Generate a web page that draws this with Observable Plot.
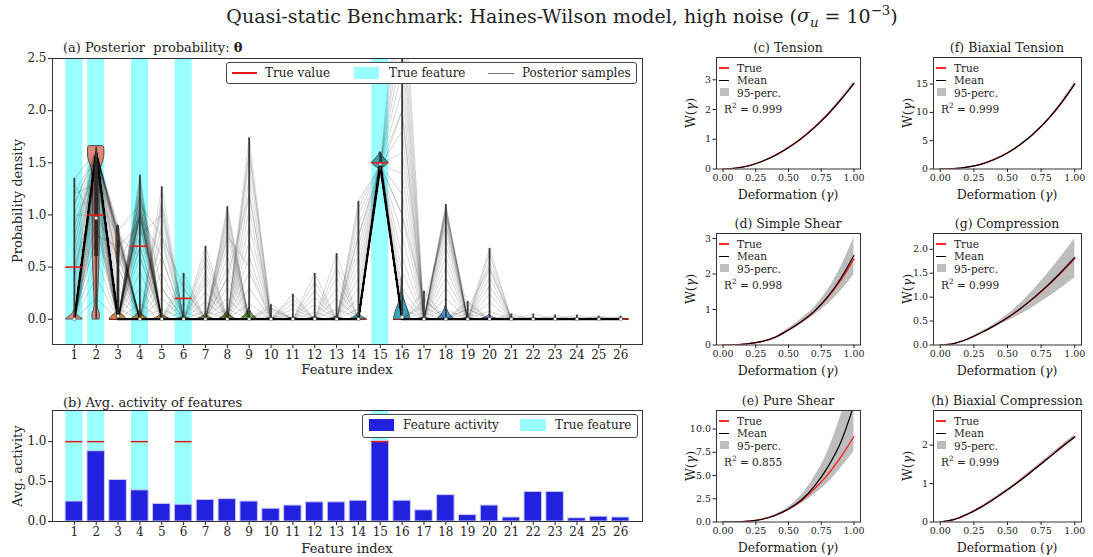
<!DOCTYPE html>
<html><head><meta charset="utf-8">
<script src="https://cdn.jsdelivr.net/npm/d3@7"></script>
<script src="https://cdn.jsdelivr.net/npm/@observablehq/plot@0.6"></script>
<style>
body{margin:0;background:#fff;}
#root{position:relative;width:1093px;height:557px;overflow:hidden;font-family:"DejaVu Serif",serif;color:#222;background:#fff;}
.abs{position:absolute;white-space:nowrap;line-height:1;}
.plot{position:absolute;}
</style></head><body><div id="root"></div>
<script>
// ---------------- DATA ----------------
const features = [1,2,3,4,5,6,7,8,9,10,11,12,13,14,15,16,17,18,19,20,21,22,23,24,25,26];
const trueFeatures = [1,2,4,6,15];
const trueValues = [0.5,1.0,0,0.7,0,0.2,0,0,0,0,0,0,0,0,1.5,0,0,0,0,0,0,0,0,0,0,0];
// dominant posterior sample (mode)
const modePath = [0,1.6,0,0,0,0,0,0,0,0,0,0,0,0,1.48,0,0,0,0,0,0,0,0,0,0,0];
// posterior samples differing from the mode at one feature
const fanHeights = [
  [0.1,0.2,0.3,0.4,0.5,0.6,0.7,0.8,0.9,1.0,1.1,1.2,1.35],
  [0.2,0.4,0.6,0.8,0.95,1.1,1.25,1.35,1.45,1.5,1.52,1.55,1.57,1.58,1.62,1.63,1.65],
  [0.1,0.2,0.3,0.4,0.5,0.6,0.65,0.7,0.72,0.75,0.76,0.78,0.8,0.8,0.82,0.84,0.86,0.9],
  [0.15,0.3,0.45,0.6,0.7,0.8,0.88,0.94,0.98,1.0,1.02,1.05,1.08,1.1,1.15,1.2,1.25,1.3,1.38],
  [0.1,0.2,0.3,0.45,0.6,0.75,0.9,1.05,1.15,1.27],
  [0.07,0.15,0.22,0.3,0.37,0.44],
  [0.08,0.17,0.26,0.35,0.45,0.55,0.62,0.7],
  [0.1,0.2,0.3,0.4,0.5,0.6,0.7,0.78,0.85,0.9,0.95,1.0,1.04,1.08],
  [0.15,0.3,0.45,0.6,0.75,0.9,1.05,1.2,1.35,1.5,1.62,1.74],
  [0.04,0.08,0.11,0.14],
  [0.05,0.1,0.15,0.2,0.24],
  [0.07,0.14,0.21,0.28,0.36,0.44],
  [0.1,0.2,0.3,0.4,0.5,0.63],
  [0.1,0.2,0.3,0.4,0.5,0.6,0.7,0.8,0.9,1.0,1.07,1.13],
  [1.4,1.42,1.44,1.45,1.46,1.47,1.49,1.5,1.51,1.52,1.54,1.55,1.58,1.6],
  [0.1,0.2,0.3,0.45,0.6,0.8,1.0,1.2,1.4,1.6,1.8,2.0,2.2,2.4,2.6,2.8,3.0,3.3,3.6],
  [0.06,0.12,0.18,0.27],
  [0.1,0.2,0.3,0.4,0.5,0.6,0.7,0.78,0.85,0.92,0.97,1.0,1.03,1.05,1.07,1.08,1.1],
  [0.05,0.1,0.14,0.17],
  [0.08,0.16,0.24,0.32,0.4,0.48,0.56,0.63,0.68],
  [0.03,0.05],[0.02,0.05],[0.02,0.04],[0.02,0.04],[0.02,0.03],[0.01,0.03]
];
// posterior samples differing from the mode at two features: [featureA, valueA, featureB, valueB]
const pairSamples = [
  [1,1.2,2,1.3],[1,0.9,2,1.45],[1,0.6,2,1.5],[1,1.0,2,1.0],[1,0.5,2,1.2],[1,1.3,2,0.9],
  [2,1.2,3,0.8],[2,1.0,3,0.6],[2,1.4,3,0.85],[2,0.8,3,0.7],[2,1.5,3,0.5],
  [2,1.3,4,1.1],[2,1.1,4,1.2],[2,1.5,4,0.9],[2,1.4,4,1.3],[2,0.9,4,1.0],[2,1.2,4,1.0],[2,1.0,4,1.35],[2,1.45,4,1.05],
  [3,0.8,4,0.6],[3,0.5,4,1.0],[3,0.7,4,0.9],[3,0.85,4,1.1],
  [4,1.0,5,0.6],[4,0.8,5,1.0],[4,1.2,5,0.3],[4,1.1,5,0.8],
  [1,0.8,4,1.0],[1,1.1,4,0.7],[1,0.4,3,0.8],[1,0.7,4,1.2],
  [5,0.8,6,0.3],[5,1.1,7,0.4],[8,0.8,9,0.5],[9,1.2,8,0.4],[9,1.6,10,0.1],
  [14,0.8,15,1.45],[16,2.0,15,1.4],[16,1.0,17,0.2],[18,0.9,17,0.15],[18,1.0,19,0.1],[20,0.5,19,0.1]
];
const whiskerLo = [0,0,0,0,0,0,0,0,0,0,0,0,0,0,1.42,0,0,0,0,0,0,0,0,0,0,0];
const whiskerHi = [1.35,1.65,0.9,1.38,1.27,0.44,0.7,1.08,1.74,0.14,0.24,0.44,0.63,1.13,1.6,3.6,0.27,1.1,0.17,0.68,0.05,0.05,0.04,0.04,0.03,0.03];
const boxFeatures = [2,3];
const boxLo = [0.6,0.0];
const boxHi = [1.5,0.75];
const boxWidths = [4,2.5];
const medians = [0,0.97,0.03,0,0,0,0,0,0,0,0,0,0,0,1.49,0.02,0,0,0,0,0,0,0,0,0,0];
const violinColors = ["#e58b80","#e08878","#d98a4e","#cc8f3a","#b8923a","#a99a36","#94a035","#6f8e2a","#5ea83a","#4caa52","#40aa6a","#3aa97c","#37a88c","#35a69a","#36a5a8","#3aa3b8","#40a0c8","#4a9bd6","#6a96e0","#8c8fe6","#a88ae6","#c083e0","#d27ed0","#dd7dbe","#e280aa","#e48596"];
// heights of the violin blobs at zero (null = custom profile)
const blobHeights = [0.085,null,null,0.09,0.06,0.03,0.05,0.08,0.11,0.02,0.02,0.025,0.03,0.06,null,null,0.02,0.13,0.02,0.045,0.012,0.012,0.012,0.012,0.012,0.012];
const blobTemplateY = [0,0.12,0.3,0.55,0.8,1.0];
const blobTemplateW = [0.38,0.33,0.21,0.11,0.04,0.01];
const violin2 = [[0,0.16],[0.04,0.18],[0.09,0.1],[0.15,0.07],[0.25,0.09],[0.45,0.13],[0.7,0.16],[1.0,0.16],[1.2,0.15],[1.35,0.17],[1.45,0.22],[1.52,0.33],[1.58,0.38],[1.65,0.37],[1.66,0.3]];
const violin3 = [[0,0.38],[0.02,0.32],[0.045,0.18],[0.07,0.06],[0.1,0.02],[0.5,0.015],[0.55,0.04],[0.62,0.07],[0.72,0.08],[0.82,0.07],[0.88,0.04],[0.9,0.02]];
const violin15 = [[1.44,0.03],[1.47,0.25],[1.5,0.38],[1.52,0.3],[1.55,0.15],[1.6,0.02]];
const violin16 = [[0,0.38],[0.04,0.34],[0.1,0.25],[0.16,0.14],[0.22,0.07],[0.3,0.03],[0.4,0.015]];
const activity = [0.25,0.88,0.52,0.39,0.22,0.21,0.27,0.28,0.25,0.16,0.20,0.24,0.24,0.26,1.0,0.26,0.14,0.33,0.08,0.20,0.05,0.37,0.37,0.04,0.06,0.05];

// small panels
const gammas = [0,0.1,0.2,0.3,0.4,0.5,0.6,0.7,0.8,0.9,1.0];
const tensionTrue = [0,0.03,0.11,0.26,0.46,0.72,1.03,1.41,1.84,2.33,2.87];
const tensionMean = [0,0.03,0.11,0.26,0.46,0.72,1.03,1.40,1.83,2.33,2.88];
const tensionLo   = [0,0.03,0.11,0.25,0.45,0.71,1.01,1.38,1.80,2.28,2.82];
const tensionHi   = [0,0.03,0.12,0.27,0.47,0.73,1.05,1.43,1.87,2.38,2.94];
const shearTrue = [0,0.005,0.04,0.1,0.22,0.42,0.66,0.95,1.34,1.83,2.42];
const shearMean = [0,0.005,0.04,0.1,0.22,0.42,0.66,0.96,1.36,1.88,2.52];
const shearLo   = [0,0.004,0.035,0.09,0.2,0.39,0.6,0.85,1.15,1.52,1.98];
const shearHi   = [0,0.006,0.045,0.11,0.24,0.47,0.74,1.08,1.55,2.2,3.02];
const pureTrue = [0,0.01,0.1,0.3,0.72,1.38,2.3,3.6,5.1,7.0,9.2];
const pureMean = [0,0.01,0.1,0.3,0.73,1.4,2.4,3.9,5.9,8.6,12.6];
const pureLo   = [0,0.01,0.09,0.27,0.65,1.25,2.0,3.0,4.2,5.8,7.6];
const pureHi   = [0,0.012,0.11,0.33,0.82,1.6,2.9,4.9,7.6,11.5,16];
const biTensionTrue = [0,0.06,0.32,0.83,1.67,2.84,4.40,6.38,8.77,11.66,15.0];
const biTensionMean = [0,0.06,0.32,0.83,1.67,2.84,4.40,6.37,8.76,11.65,15.05];
const biTensionLo   = [0,0.05,0.3,0.8,1.62,2.77,4.3,6.24,8.6,11.42,14.7];
const biTensionHi   = [0,0.07,0.34,0.86,1.72,2.91,4.5,6.5,8.92,11.9,15.4];
const compTrue = [0,0.03,0.12,0.25,0.4,0.57,0.77,0.99,1.24,1.51,1.8];
const compMean = [0,0.03,0.12,0.25,0.4,0.57,0.77,1.0,1.25,1.53,1.83];
const compLo   = [0,0.03,0.11,0.23,0.37,0.5,0.64,0.81,0.99,1.19,1.4];
const compHi   = [0,0.03,0.13,0.27,0.43,0.63,0.88,1.17,1.5,1.85,2.22];
const biCompTrue = [0,0.06,0.2,0.38,0.6,0.84,1.1,1.38,1.66,1.95,2.22];
const biCompMean = [0,0.06,0.2,0.38,0.6,0.84,1.09,1.37,1.65,1.94,2.21];
const biCompLo   = [0,0.05,0.19,0.36,0.57,0.81,1.06,1.33,1.61,1.89,2.15];
const biCompHi   = [0,0.07,0.21,0.4,0.63,0.87,1.13,1.41,1.7,1.99,2.27];

// ---------------- HELPERS ----------------
const root = document.getElementById("root");
function place(el, left, top){ el.classList.add("plot"); el.style.left = left+"px"; el.style.top = top+"px"; root.appendChild(el); }
function T(html, x, y, o={}){
  const d = document.createElement("div");
  d.className = "abs"; d.innerHTML = html;
  d.style.left = x+"px"; d.style.top = y+"px"; d.style.fontSize = (o.size||13)+"px";
  const tx = o.anchor==="start" ? "0" : o.anchor==="end" ? "-100%" : "-50%";
  d.style.transform = `translate(${tx},-50%)` + (o.rot ? ` rotate(${o.rot}deg)` : "");
  root.appendChild(d); return d;
}
function box(x,y,w,h,style){ const d=document.createElement("div"); d.style.position="absolute"; d.style.left=x+"px"; d.style.top=y+"px"; d.style.width=w+"px"; d.style.height=h+"px"; Object.assign(d.style, style||{}); root.appendChild(d); return d; }
const baseStyle = {fontFamily:"DejaVu Serif", background:"transparent", overflow:"visible", color:"#222"};
const half = 0.39;

// ---------------- PANEL (a) ----------------
const sampleRows = [];
let sid = 0;
const pushPath = (p) => { p.forEach((v,i)=>sampleRows.push({sid, f: features[i], v})); sid++; };
pushPath(modePath);
fanHeights.forEach((hs, i) => hs.forEach(h => { const p = modePath.slice(); p[i] = h; pushPath(p); }));
pairSamples.forEach(([fa, va, fb, vb]) => { const p = modePath.slice(); p[fa-1] = va; p[fb-1] = vb; pushPath(p); });
const modeRows = features.map((f,i)=>({f, v: modePath[i]}));

const violinMarks = features.map((f,i) => {
  let prof;
  if (f===2) prof = violin2; else if (f===3) prof = violin3; else if (f===15) prof = violin15; else if (f===16) prof = violin16;
  else prof = blobTemplateY.map((t,j)=>[t*blobHeights[i], blobTemplateW[j]]);
  const rows = prof.map(([y,w])=>({y, w}));
  return Plot.areaX(rows, {y:"y", x1: d=>f-d.w, x2: d=>f+d.w, fill: violinColors[i], stroke:"#222", strokeWidth:0.7, curve:"monotone-y"});
});
const whiskRows = features.map((f,i)=>({f, lo: whiskerLo[i], hi: whiskerHi[i]}));
const boxRows = boxFeatures.map((f,i)=>({f, lo: boxLo[i], hi: boxHi[i], w: boxWidths[i]}));
const medRows = features.map((f,i)=>({f, v: medians[i]}));
const trueRows = features.map((f,i)=>({f, v: trueValues[i]}));

const plotA = Plot.plot({
  width: 660, height: 366, marginLeft: 52, marginRight: 18, marginTop: 58, marginBottom: 22,
  x: {domain: [0,27]}, y: {domain: [-0.242, 2.5]},
  style: {...baseStyle, fontSize: "12px"},
  marks: [
    Plot.rect(trueFeatures, {x1: d=>d-half, x2: d=>d+half, fill: "#99ffff"}),
    Plot.ruleY(trueRows.filter(d=>d.v===0), {y:"v", x1: d=>d.f-half, x2: d=>d.f+half, stroke:"#e8191b", strokeWidth:1.6}),
    ...violinMarks,
    Plot.line(sampleRows, {x:"f", y:"v", z:"sid", stroke:"#000", strokeOpacity:0.14, strokeWidth:1.1, clip:true}),
    Plot.line(modeRows, {x:"f", y:"v", stroke:"#000", strokeOpacity:0.85, strokeWidth:2.2, clip:true}),
    Plot.ruleX(whiskRows, {x:"f", y1:"lo", y2:"hi", stroke:"#3a3a3a", strokeWidth:1.8, clip:true}),
    ...boxRows.map(b => Plot.ruleX([b], {x:"f", y1:"lo", y2:"hi", stroke:"#2a2a2a", strokeWidth:b.w})),
    Plot.dot(medRows, {x:"f", y:"v", r:1.6, symbol:"square", fill:"#fff", stroke:"#777", strokeWidth:0.5}),
    Plot.ruleY(trueRows.filter(d=>d.v!==0), {y:"v", x1: d=>d.f-half, x2: d=>d.f+half, stroke:"#e8191b", strokeWidth:1.6}),
    Plot.axisX({ticks: features, tickFormat: d=>d, tickSize: 4, tickPadding: 2, label: null}),
    Plot.axisY({ticks: [0,0.5,1,1.5,2,2.5], tickFormat: ".1f", tickSize: 4, tickPadding: 2, label: null}),
    Plot.frame({stroke:"#333"})
  ]
});
place(plotA, 0, 0);

// ---------------- PANEL (b) ----------------
const actRows = features.map((f,i)=>({f, v: activity[i]}));
const plotB = Plot.plot({
  width: 660, height: 145, marginLeft: 52, marginRight: 18, marginTop: 12, marginBottom: 22,
  x: {domain: [0,27]}, y: {domain: [0,1.39]},
  style: {...baseStyle, fontSize: "12px"},
  marks: [
    Plot.rect(trueFeatures, {x1: d=>d-half, x2: d=>d+half, fill: "#99ffff"}),
    Plot.rectY(actRows, {x1: d=>d.f-0.4, x2: d=>d.f+0.4, y:"v", fill:"#2121de", stroke:"#c8c8fa", strokeWidth:1}),
    Plot.ruleY(trueFeatures, {y: d=>1, x1: d=>d-half, x2: d=>d+half, stroke:"#e8191b", strokeWidth:1.5}),
    Plot.axisX({ticks: features, tickFormat: d=>d, tickSize: 4, tickPadding: 2, label: null}),
    Plot.axisY({ticks: [0,0.5,1], tickFormat: ".1f", tickSize: 4, tickPadding: 2, label: null}),
    Plot.frame({stroke:"#333"})
  ]
});
place(plotB, 0, 398);

// ---------------- TEXTS (a),(b) ----------------
T('Quasi-static Benchmark: Haines-Wilson model, high noise (<i>σ<sub style="font-size:70%">u</sub></i> = 10<sup style="font-size:70%">−3</sup>)', 562, 17, {size:19});
T('(a) Posterior&nbsp; probability: <b>θ</b>', 63, 47, {size:13, anchor:"start"});
T('Probability density', 17, 201, {size:13, rot:-90});
T('Feature index', 347, 369, {size:13});
T('(b) Avg. activity of features', 63, 402, {size:13, anchor:"start"});
T('Avg. activity', 17, 466, {size:13, rot:-90});
T('Feature index', 347, 548, {size:13});

// legend (a)
box(226, 62, 409, 20, {border:"1px solid #444", borderRadius:"3px", background:"#fff"});
box(232, 72, 25, 2, {background:"#e8191b"});
T('True value', 265, 73, {size:12, anchor:"start"});
box(354, 67, 25, 12, {background:"#99ffff"});
T('True feature', 389, 73, {size:12, anchor:"start"});
box(488, 72.5, 26, 1, {background:"#777"});
T('Posterior samples', 522, 73, {size:12, anchor:"start"});

// legend (b)
box(362, 414, 274, 22, {border:"1px solid #444", borderRadius:"3px", background:"#fff"});
box(369, 419, 25, 12, {background:"#2121de"});
T('Feature activity', 403, 425, {size:12, anchor:"start"});
box(520, 419, 26, 12, {background:"#99ffff"});
T('True feature', 555, 425, {size:12, anchor:"start"});

// ---------------- SMALL PANELS ----------------
function smallPanel(p){
  const rows = gammas.map((g,i)=>({g, t:p.t[i], m:p.m[i], lo:p.lo[i], hi:p.hi[i]}));
  const mL=40, mR=8, mT=4, mB=18;
  const plot = Plot.plot({
    width: mL+p.fw+mR, height: mT+p.fh+mB, marginLeft:mL, marginRight:mR, marginTop:mT, marginBottom:mB,
    x: {domain:[-0.05,1.05]}, y: {domain:[0,p.ymax]},
    style: {...baseStyle, fontSize:"9.5px"},
    marks: [
      Plot.areaY(rows, {x:"g", y1:"lo", y2:"hi", fill:"#bdbdbd", curve:"monotone-x", clip:true}),
      Plot.line(rows, {x:"g", y:"t", stroke:"#ff1a1a", strokeWidth:1.3, curve:"monotone-x", clip:true}),
      Plot.line(rows, {x:"g", y:"m", stroke:"#000", strokeWidth:1.2, curve:"monotone-x", clip:true}),
      Plot.axisX({ticks:[0,0.25,0.5,0.75,1], tickFormat:".2f", tickSize:3.5, tickPadding:2, label:null}),
      Plot.axisY({ticks:p.yticks, tickFormat:p.yfmt, tickSize:3.5, tickPadding:2, label:null}),
      Plot.frame({stroke:"#333"})
    ]
  });
  place(plot, p.fx-mL, p.fy-mT);
  T(p.title, p.fx+p.fw/2, p.fy-9, {size:12.5});
  T('W(<i>γ</i>)', p.fx-25, p.fy+p.fh/2, {size:12.5, rot:-90});
  T('Deformation (<i>γ</i>)', p.fx+p.fw/2, p.fy+p.fh+26, {size:12.5});
  // legend
  box(p.fx+3, p.fy+10, 10, 1.6, {background:"#ff2a2a"});
  T('True', p.fx+21, p.fy+10.5, {size:10.5, anchor:"start"});
  box(p.fx+3, p.fy+22.5, 10, 1.6, {background:"#000"});
  T('Mean', p.fx+21, p.fy+23, {size:10.5, anchor:"start"});
  box(p.fx+4, p.fy+31, 9, 8, {background:"#bdbdbd"});
  T('95-perc.', p.fx+21, p.fy+35.5, {size:10.5, anchor:"start"});
  T('R<sup style="font-size:70%">2</sup> = '+p.r2, p.fx+8, p.fy+51, {size:10.5, anchor:"start"});
}
const col1 = 716, col2 = 933, w1 = 144, w2 = 148;
const rowsY = [57, 233, 410], fh = 111.5;
smallPanel({title:"(c) Tension", fx:col1, fy:rowsY[0], fw:w1, fh, ymax:3.75, yticks:[0,1,2,3], yfmt:"d", t:tensionTrue, m:tensionMean, lo:tensionLo, hi:tensionHi, r2:"0.999"});
smallPanel({title:"(d) Simple Shear", fx:col1, fy:rowsY[1], fw:w1, fh, ymax:3.14, yticks:[0,1,2,3], yfmt:"d", t:shearTrue, m:shearMean, lo:shearLo, hi:shearHi, r2:"0.998"});
smallPanel({title:"(e) Pure Shear", fx:col1, fy:rowsY[2], fw:w1, fh, ymax:12, yticks:[0,2.5,5,7.5,10], yfmt:".1f", t:pureTrue, m:pureMean, lo:pureLo, hi:pureHi, r2:"0.855"});
smallPanel({title:"(f) Biaxial Tension", fx:col2, fy:rowsY[0], fw:w2, fh, ymax:19.7, yticks:[0,5,10,15], yfmt:"d", t:biTensionTrue, m:biTensionMean, lo:biTensionLo, hi:biTensionHi, r2:"0.999"});
smallPanel({title:"(g) Compression", fx:col2, fy:rowsY[1], fw:w2, fh, ymax:2.33, yticks:[0,0.5,1,1.5,2], yfmt:".1f", t:compTrue, m:compMean, lo:compLo, hi:compHi, r2:"0.999"});
smallPanel({title:"(h) Biaxial Compression", fx:col2, fy:rowsY[2], fw:w2, fh, ymax:2.9, yticks:[0,1,2], yfmt:"d", t:biCompTrue, m:biCompMean, lo:biCompLo, hi:biCompHi, r2:"0.999"});
</script></body></html>
